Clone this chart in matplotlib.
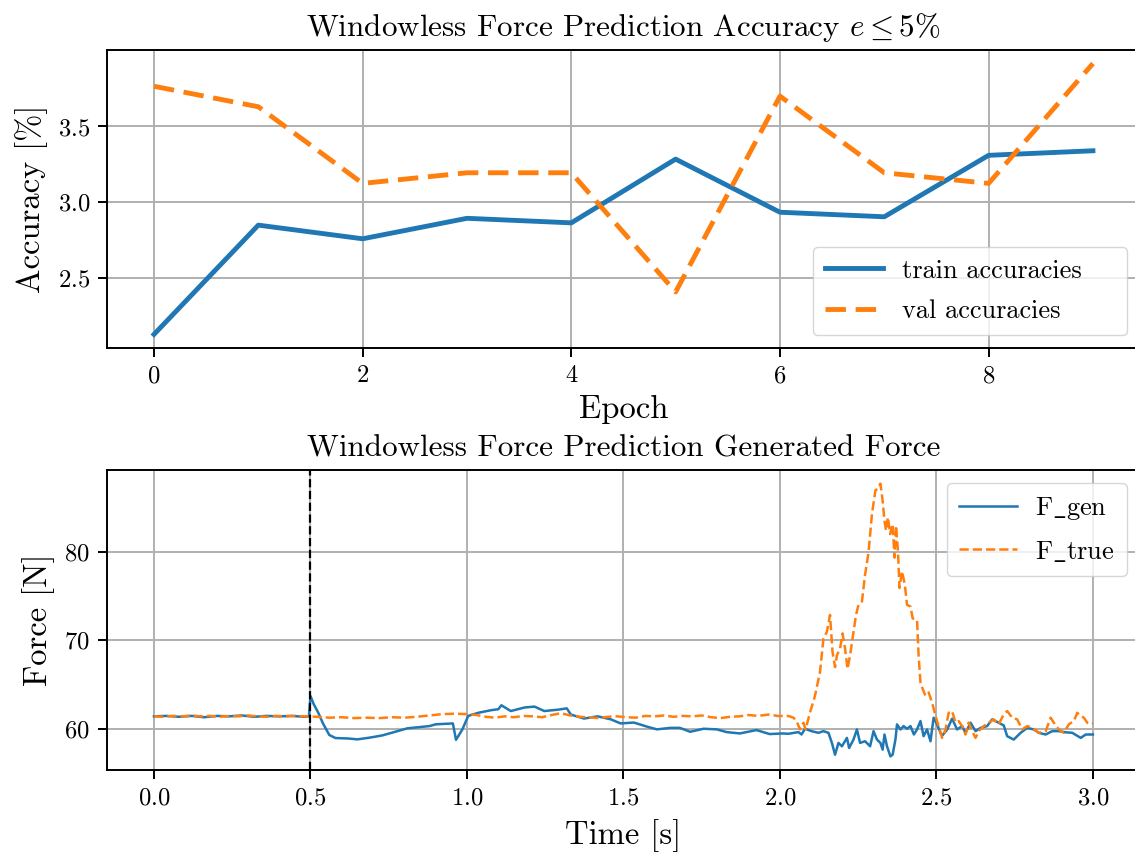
import matplotlib
matplotlib.use('Agg')
import matplotlib.pyplot as plt

plt.rcParams.update({
    'font.family': 'serif',
    'font.serif': ['cmr10'],
    'mathtext.fontset': 'cm',
    'axes.formatter.use_mathtext': True,
    'axes.unicode_minus': False,
})

# accuracy per epoch
epochs = [0, 1, 2, 3, 4, 5, 6, 7, 8, 9]
train_acc = [2.13, 2.85, 2.76, 2.895, 2.865, 3.285, 2.935, 2.905, 3.31, 3.34]
val_acc = [3.765, 3.63, 3.125, 3.195, 3.195, 2.41, 3.70, 3.195, 3.125, 3.915]

# generated force trace
t_gen = [0.00, 0.04, 0.08, 0.12, 0.16, 0.20, 0.24, 0.28, 0.32, 0.36, 0.40, 0.44,
         0.48, 0.495, 0.50, 0.51, 0.525, 0.54, 0.56, 0.58, 0.62, 0.65, 0.69, 0.73,
         0.77, 0.81, 0.85, 0.88, 0.90, 0.93, 0.955, 0.965, 0.985, 1.004, 1.036,
         1.078, 1.10, 1.11, 1.14, 1.184, 1.216, 1.247, 1.29, 1.319, 1.332, 1.374,
         1.417, 1.459, 1.491, 1.533, 1.576, 1.607, 1.65, 1.68, 1.713, 1.756, 1.798,
         1.83, 1.872, 1.925, 1.967, 2.01, 2.027, 2.059, 2.069, 2.08, 2.101, 2.123,
         2.139, 2.155, 2.166, 2.176, 2.187, 2.198, 2.214, 2.221, 2.235, 2.246,
         2.256, 2.272, 2.288, 2.299, 2.31, 2.321, 2.328, 2.334, 2.342, 2.353,
         2.36, 2.369, 2.374, 2.385, 2.395, 2.406, 2.417, 2.428, 2.438, 2.449,
         2.459, 2.47, 2.481, 2.491, 2.502, 2.513, 2.518, 2.534, 2.55, 2.566,
         2.582, 2.593, 2.609, 2.625, 2.641, 2.662, 2.678, 2.699, 2.715, 2.726,
         2.747, 2.769, 2.79, 2.811, 2.827, 2.849, 2.87, 2.891, 2.913, 2.934,
         2.961, 2.977, 3.0]
f_gen = [61.40, 61.45, 61.35, 61.45, 61.30, 61.45, 61.40, 61.50, 61.35, 61.45, 61.40, 61.45,
         61.35, 61.40, 63.70, 62.80, 61.80, 60.60, 59.30, 58.95, 58.90, 58.80, 59.00, 59.25,
         59.65, 60.05, 60.20, 60.30, 60.50, 60.55, 60.60, 58.75, 59.90, 61.45, 61.80,
         62.10, 62.20, 62.65, 62.00, 62.40, 62.50, 62.00, 62.15, 62.30, 61.60, 61.15,
         61.40, 61.07, 60.60, 60.70, 60.23, 59.93, 60.10, 60.10, 59.66, 60.00, 59.93,
         59.62, 59.47, 59.85, 59.40, 59.47, 59.43, 59.62, 59.35, 60.00, 59.73, 59.54,
         59.73, 59.54, 58.40, 57.07, 58.40, 58.02, 58.97, 57.83, 58.78, 59.92,
         58.40, 58.59, 58.02, 59.73, 58.78, 58.40, 57.64, 59.35, 58.02, 56.88,
         57.07, 58.78, 60.49, 59.92, 60.30, 60.00, 60.30, 59.35, 59.92, 60.87,
         59.16, 59.92, 58.59, 61.25, 60.49, 59.54, 59.20, 59.90, 61.14, 59.92,
         60.30, 59.54, 60.68, 59.73, 60.10, 60.30, 61.06, 60.68, 60.38, 59.16,
         58.78, 59.54, 60.10, 59.92, 59.54, 59.35, 59.73, 59.73, 59.60, 59.54,
         58.97, 59.35, 59.35]

# measured force trace
t_true = [0.00, 0.03, 0.06, 0.09, 0.12, 0.15, 0.18, 0.21, 0.24, 0.27, 0.30, 0.33,
          0.36, 0.39, 0.42, 0.45, 0.48, 0.52, 0.56, 0.60, 0.64, 0.68, 0.72, 0.76,
          0.80, 0.84, 0.88, 0.92, 0.96, 1.00, 1.03, 1.06, 1.09, 1.12, 1.15, 1.18,
          1.21, 1.24, 1.27, 1.30, 1.33, 1.36, 1.39, 1.42, 1.45, 1.48, 1.51, 1.54,
          1.57, 1.60, 1.63, 1.66, 1.69, 1.72, 1.75, 1.78, 1.81, 1.84, 1.87, 1.90,
          1.93, 1.963, 1.995, 2.027, 2.043, 2.053, 2.064, 2.075, 2.082, 2.096,
          2.112, 2.128, 2.139, 2.15, 2.16, 2.168, 2.176, 2.182, 2.192, 2.2, 2.208,
          2.216, 2.224, 2.235, 2.243, 2.251, 2.262, 2.272, 2.283, 2.294, 2.305,
          2.313, 2.321, 2.328, 2.334, 2.339, 2.345, 2.352, 2.36, 2.366, 2.371,
          2.377, 2.382, 2.39, 2.399, 2.406, 2.417, 2.424, 2.438, 2.443, 2.449,
          2.456, 2.465, 2.475, 2.486, 2.497, 2.507, 2.518, 2.529, 2.539, 2.55,
          2.561, 2.571, 2.582, 2.593, 2.603, 2.614, 2.625, 2.635, 2.651, 2.667,
          2.683, 2.699, 2.715, 2.726, 2.742, 2.758, 2.774, 2.79, 2.806, 2.827,
          2.849, 2.865, 2.875, 2.891, 2.907, 2.923, 2.939, 2.95, 2.961, 2.971,
          2.982, 2.993, 3.0]
f_true = [61.40, 61.35, 61.45, 61.40, 61.50, 61.40, 61.45, 61.35, 61.45, 61.40, 61.50, 61.40,
          61.35, 61.45, 61.40, 61.45, 61.40, 61.35, 61.25, 61.30, 61.20, 61.25, 61.20, 61.30,
          61.25, 61.35, 61.50, 61.65, 61.70, 61.65, 61.55, 61.35, 61.25, 61.40, 61.30, 61.45,
          61.40, 61.30, 61.55, 61.75, 61.50, 61.35, 61.30, 61.20, 61.35, 61.40, 61.30, 61.25,
          61.45, 61.40, 61.50, 61.35, 61.45, 61.40, 61.50, 61.30, 61.20, 61.35, 61.40, 61.55,
          61.45, 61.60, 61.44, 61.44, 61.25, 60.87, 59.92, 60.68, 59.92, 61.83,
          63.73, 66.40, 70.20, 70.95, 72.85, 68.67, 66.96, 68.29, 69.05, 70.76, 69.05,
          66.77, 68.29, 70.95, 72.85, 73.99, 74.37, 77.41, 79.89, 84.26, 86.92,
          87.11, 87.68, 85.78, 83.50, 82.36, 83.88, 81.98, 83.12, 79.32, 82.93,
          80.08, 75.89, 77.79, 76.27, 73.99, 73.80, 72.47, 72.28, 68.29, 65.25,
          64.49, 63.73, 64.10, 62.97, 61.44, 60.30, 58.97, 59.92, 61.80, 62.00,
          60.70, 60.87, 60.30, 59.35, 60.70, 59.73, 58.97, 59.73, 60.30, 60.68,
          61.06, 60.50, 61.63, 62.00, 61.25, 61.06, 59.92, 60.30, 60.10, 59.54,
          59.73, 61.25, 60.68, 59.92, 59.54, 60.50, 60.87, 61.80, 61.44, 61.25,
          60.68, 60.50, 60.60]

window_start = 0.5

fig = plt.figure(figsize=(11.35, 8.57), dpi=100)
ax1 = fig.add_axes([0.0943, 0.594, 0.910, 0.3477])
ax2 = fig.add_axes([0.0943, 0.1015, 0.910, 0.3501])

title_fs = 22.4
label_fs = 23.5
tick_fs = 17.7
legend_fs = 19
legend_style = dict(fontsize=legend_fs, handlelength=2.2, handletextpad=0.7,
                    borderpad=0.46, labelspacing=0.62)

for ax in (ax1, ax2):
    ax.grid(True, color='#b0b0b0', linewidth=1.4)
    ax.set_axisbelow(True)
    for sp in ax.spines.values():
        sp.set_linewidth(1.4)
    ax.tick_params(labelsize=tick_fs, width=1.4, length=6.2, pad=6)

ax1.plot(epochs, train_acc, color='#1f77b4', linewidth=3.5, label='train accuracies')
ax1.plot(epochs, val_acc, color='#ff7f0e', linewidth=3.5, linestyle='--',
         dashes=(4.2, 2.0), label='val accuracies')
ax1.set_title(r'Windowless Force Prediction Accuracy $e \leq 5\%$', fontsize=title_fs, pad=10)
ax1.set_xlabel('Epoch', fontsize=label_fs, labelpad=6)
ax1.set_ylabel('Accuracy [%]', fontsize=label_fs, labelpad=7)
ax1.set_yticks([2.5, 3.0, 3.5])
# wide legend box in the lower right corner
ax1.legend(loc='lower left', bbox_to_anchor=(0.6834, 0.0436, 0.304, 0.3),
           mode='expand', borderaxespad=0, **legend_style)

ax2.plot(t_gen, f_gen, color='#1f77b4', linewidth=1.8, label=r'F$\_$gen')
ax2.plot(t_true, f_true, color='#ff7f0e', linewidth=1.8, linestyle='--', label=r'F$\_$true')
ax2.axvline(window_start, color='black', linestyle='--', linewidth=1.6)
ax2.set_title('Windowless Force Prediction Generated Force', fontsize=title_fs, pad=10)
ax2.set_xlabel('Time [s]', fontsize=label_fs, labelpad=7)
ax2.set_ylabel('Force [N]', fontsize=label_fs, labelpad=7)
ax2.set_xticks([0.0, 0.5, 1.0, 1.5, 2.0, 2.5, 3.0])
ax2.set_yticks([60, 70, 80])
ax2.legend(loc='upper right', borderaxespad=0.5, **legend_style)

fig.savefig('out.png', dpi=100)
